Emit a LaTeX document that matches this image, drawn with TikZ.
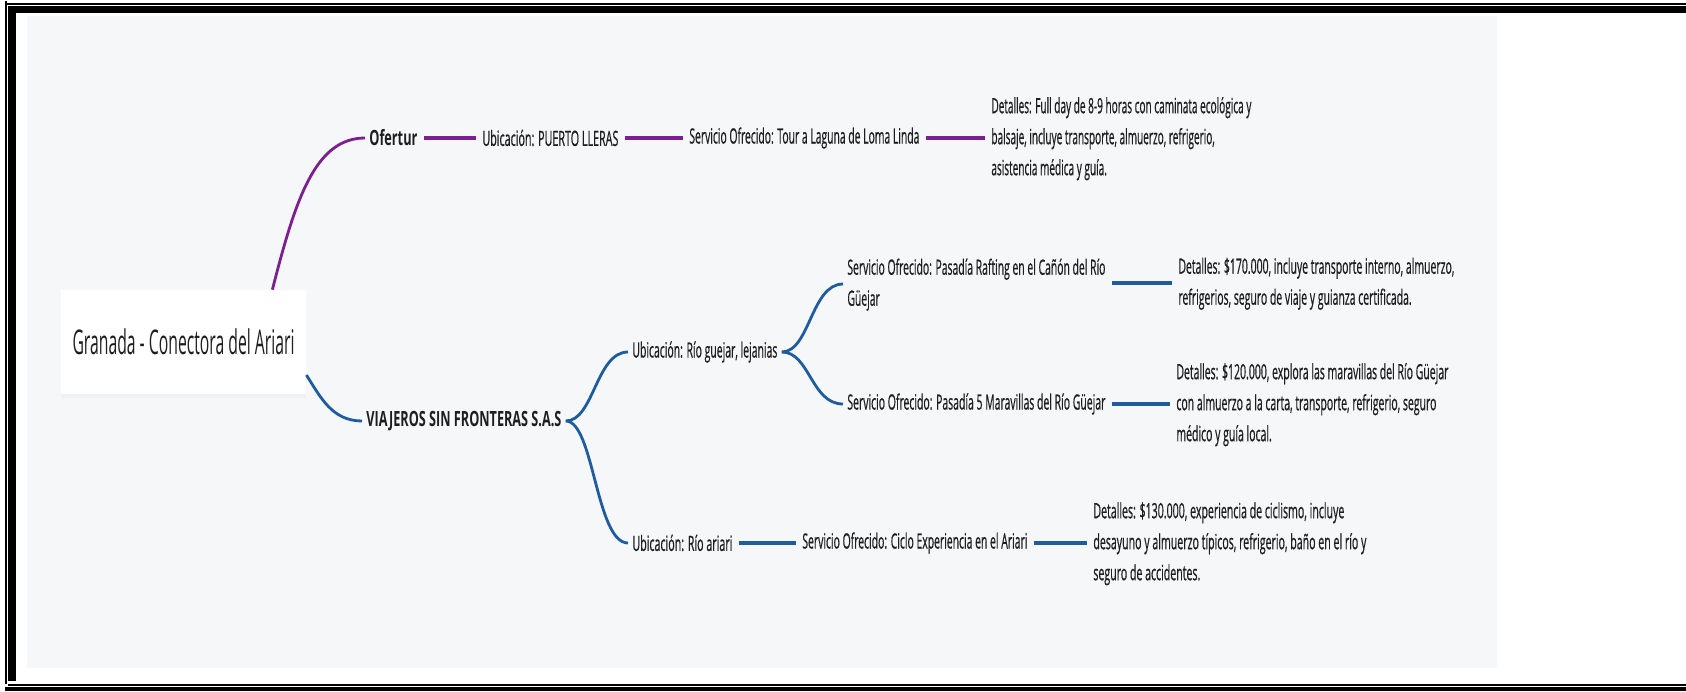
\documentclass[tikz,border=0pt]{standalone}
\usepackage{fontspec}
\setmainfont{Open Sans}
\newfontfamily\medf{Open Sans}[FakeBold=0.9]
\usetikzlibrary{shadows}
\definecolor{bgc}{HTML}{F6F7F9}
\definecolor{pur}{HTML}{7E1F91}
\definecolor{blu}{HTML}{1F5C9E}
\definecolor{txt}{HTML}{1E1E1E}
\newcommand\sq[2]{\resizebox{#1}{\height}{#2}}
\newcommand\mlines[1]{\begin{tabular}{@{}l@{}}#1\end{tabular}}
\begin{document}
\begin{tikzpicture}[x=0.5pt,y=-0.5pt,
  lbl/.style={inner sep=0pt,anchor=west,text=txt,font=\medf\fontsize{10.5}{15.5}\selectfont},
  boldlbl/.style={lbl,font=\fontsize{10.5}{15.5}\selectfont\bfseries},
  rootbox/.style={fill=white,inner sep=0pt,minimum width=122.5pt,minimum height=52pt,text=txt,
    font=\fontsize{17}{20}\selectfont,drop shadow={opacity=0.06,shadow xshift=0pt,shadow yshift=-2pt}},
  pline/.style={line width=2pt,shorten <=3pt,shorten >=3pt},
  pcurve/.style={line width=1.4pt}]
\useasboundingbox (0,0) rectangle (1686,691);
\fill[white] (0,0) rectangle (1686,691);
% frame
\fill[black] (5,3.3) rectangle (1686,4.7);
\fill[black] (8,6) rectangle (1686,13);
\fill[black] (5,1) rectangle (7,684);
\fill[black] (8,6) rectangle (16,681);
\fill[black] (8,684) rectangle (1686,686);
\fill[black] (5,687) rectangle (1686,691);
% background
\fill[bgc] (27,16) rectangle (1497,668);
% root
\node[rootbox] (root) at (183.5,342) {\sq{111pt}{Granada - Conectora del Ariari}};
% Ofertur branch
\node[boldlbl] (ofe) at (369,138) {\sq{24pt}{Ofertur}};
\node[lbl] (pto) at (482,138) {\sq{68pt}{Ubicación: PUERTO LLERAS}};
\node[lbl] (tour) at (689,138) {\sq{115pt}{Servicio Ofrecido: Tour a Laguna de Loma Linda}};
\node[lbl] (dof) at (991,138) {\sq{130pt}{\mlines{Detalles: Full day de 8-9 horas con caminata ecológica y\\balsaje, incluye transporte, almuerzo, refrigerio,\\asistencia médica y guía.}}};
% Viajeros branch
\node[boldlbl] (via) at (366,421) {\sq{97.5pt}{VIAJEROS SIN FRONTERAS S.A.S}};
\node[lbl] (gue) at (632,352) {\sq{72.5pt}{Ubicación: Río guejar, lejanias}};
\node[lbl] (raf) at (847,284) {\sq{129pt}{\mlines{Servicio Ofrecido: Pasadía Rafting en el Cañón del Río\\Güejar}}};
\node[lbl] (d170) at (1178,283) {\sq{138pt}{\mlines{Detalles: \$170.000, incluye transporte interno, almuerzo,\\refrigerios, seguro de viaje y guianza certificada.}}};
\node[lbl] (mar) at (847,404) {\sq{129pt}{Servicio Ofrecido: Pasadía 5 Maravillas del Río Güejar}};
\node[lbl] (d120) at (1176,404) {\sq{136pt}{\mlines{Detalles: \$120.000, explora las maravillas del Río Güejar\\con almuerzo a la carta, transporte, refrigerio, seguro\\médico y guía local.}}};
\node[lbl] (ari) at (632,543) {\sq{50pt}{Ubicación: Río ariari}};
\node[lbl] (cic) at (802,543) {\sq{112.5pt}{Servicio Ofrecido: Ciclo Experiencia en el Ariari}};
\node[lbl] (d130) at (1093,543) {\sq{136.5pt}{\mlines{Detalles: \$130.000, experiencia de ciclismo, incluye\\desayuno y almuerzo típicos, refrigerio, baño en el río y\\seguro de accidentes.}}};
% purple connectors
\draw[pur,pcurve] ([xshift=-17pt]root.north east) .. controls +(23,-90) and +(-50,0) .. ([xshift=-2pt]ofe.west);
\draw[pur,pline] (ofe.east) -- (pto.west);
\draw[pur,pline] (pto.east) -- (tour.west);
\draw[pur,pline] (tour.east) -- (dof.west);
% blue connectors
\draw[blu,pcurve] ([yshift=-16.5pt]root.east) .. controls +(14,22) and +(-30,0) .. ([xshift=-2pt]via.west);
\draw[blu,pcurve] ([xshift=2pt]via.east) .. controls +(28,0) and +(-32,0) .. ([xshift=-2pt]gue.west);
\draw[blu,pcurve] ([xshift=2pt]via.east) .. controls +(28,0) and +(-32,0) .. ([xshift=-2pt]ari.west);
\draw[blu,pcurve] ([xshift=2pt]gue.east) .. controls +(28,0) and +(-32,0) .. ([xshift=-2pt]raf.west);
\draw[blu,pcurve] ([xshift=2pt]gue.east) .. controls +(28,0) and +(-32,0) .. ([xshift=-2pt]mar.west);
\draw[blu,pline] (raf.east |- d170.west) -- (d170.west);
\draw[blu,pline] (mar.east) -- (d120.west);
\draw[blu,pline] (ari.east) -- (cic.west);
\draw[blu,pline] (cic.east) -- (d130.west);
\end{tikzpicture}
\end{document}
